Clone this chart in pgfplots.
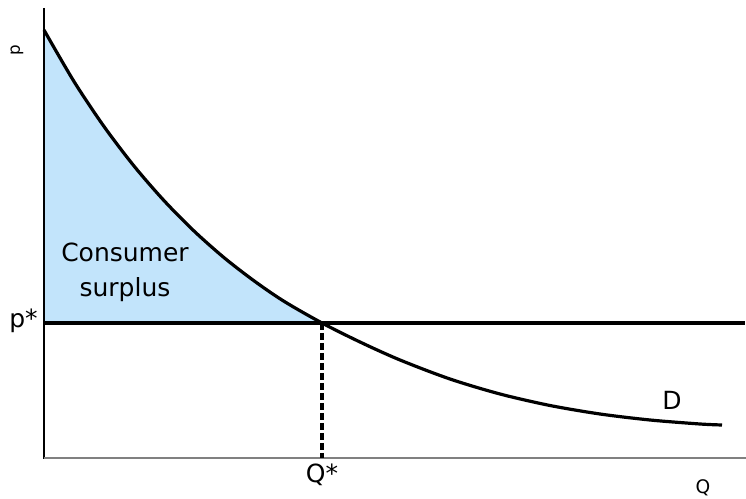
\documentclass[border=0pt]{standalone}
\usepackage{pgfplots}
\pgfplotsset{compat=1.18}
\usepgfplotslibrary{fillbetween}
\usepackage{fontspec}
\setmainfont{DejaVu Sans}
\definecolor{cs}{HTML}{C2E4FB}
\begin{document}
\begin{tikzpicture}
\begin{axis}[scale only axis, width=559.5pt, height=374.25pt,
  xmin=0, xmax=746, ymin=0, ymax=499, axis lines=none, clip=false]
\addplot[name path=D, draw=none, smooth, forget plot] coordinates {
(44,469) (74,417.5) (104,372.5) (134,333) (164,298.4) (194,268) (224,241.4) (254,218.2) (284,197.7) (322,176) (360,157) (400,139) (450,120) (500,105) (550,93.5) (600,85) (650,79) (700,75) (722,74)};
\addplot[name path=H, draw=none, forget plot] coordinates {(44,176) (745,176)};
\addplot[cs, forget plot] fill between[of=D and H, soft clip={domain=44:322}];
\addplot[black, line width=1.1pt] coordinates {(44,491) (44,40)};
\addplot[gray, line width=1.5pt] coordinates {(44,41) (746,41)};
\addplot[black, line width=2.4pt] coordinates {(44,176) (745,176)};
\addplot[black, line width=2.4pt, smooth] coordinates {
(44,469) (74,417.5) (104,372.5) (134,333) (164,298.4) (194,268) (224,241.4) (254,218.2) (284,197.7) (322,176) (360,157) (400,139) (450,120) (500,105) (550,93.5) (600,85) (650,79) (700,75) (722,74)};
\addplot[black, line width=2.3pt, dash pattern=on 5.5pt off 2pt] coordinates {(322,176) (322,41)};
\node[rotate=90, font=\fontsize{12.5}{14}\selectfont] at (axis cs:17,449) {p};
\node[anchor=east, font=\fontsize{18.75}{22}\selectfont, inner sep=0pt] at (axis cs:38,178) {p*};
\node[font=\fontsize{18.75}{22}\selectfont] at (axis cs:322,24) {Q*};
\node[anchor=south, inner sep=1pt, font=\fontsize{14}{16}\selectfont] at (axis cs:703,1) {Q};
\node[font=\fontsize{18.75}{22}\selectfont] at (axis cs:672,99) {D};
\node[align=center, font=\fontsize{18.75}{26}\selectfont] at (axis cs:125,227) {Consumer\\surplus};
\end{axis}
\pgfresetboundingbox
\useasboundingbox (current axis.south west) rectangle (current axis.north east);
\end{tikzpicture}
\end{document}
